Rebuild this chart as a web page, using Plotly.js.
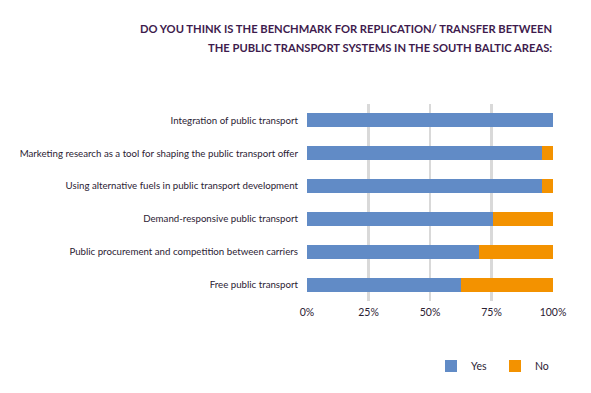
<!DOCTYPE html>
<html><head><meta charset="utf-8">
<script src="https://cdn.plot.ly/plotly-3.0.1.min.js"></script>
<style>html,body{margin:0;padding:0;background:#fff}#chart{width:591px;height:393px}</style>
</head><body><div id="chart"></div>
<script>
const categories = [
  "Integration of public transport",
  "Marketing research as a tool for shaping the public transport offer",
  "Using alternative fuels in public transport development",
  "Demand-responsive public transport",
  "Public procurement and competition between carriers",
  "Free public transport"
];
const yesValues = [100, 95.7, 95.7, 75.8, 69.8, 62.6];
const noValues = [0, 4.3, 4.3, 24.2, 30.2, 37.4];
const xTickVals = [0, 25, 50, 75, 100];
const xTickText = ["0%", "25%", "50%", "75%", "100%"];
const titleLines = [
  "DO YOU THINK IS THE BENCHMARK FOR REPLICATION/ TRANSFER BETWEEN",
  "THE PUBLIC TRANSPORT SYSTEMS IN THE SOUTH BALTIC AREAS:"
];

const font = "Lato, 'Noto Sans', sans-serif";
const data = [
  {type:'bar', orientation:'h', name:'Yes', y:categories, x:yesValues, marker:{color:'#618bc6'}},
  {type:'bar', orientation:'h', name:'No', y:categories, x:noValues, marker:{color:'#f39200'}}
];
const layout = {
  width:591, height:393,
  margin:{l:307, r:38, t:104, b:92, autoexpand:false},
  barmode:'stack', bargap:0.57,
  paper_bgcolor:'#fff', plot_bgcolor:'#fff',
  font:{family:font, size:10, color:'#2b2233'},
  xaxis:{range:[0,100], tickvals:xTickVals, ticktext:xTickText, showgrid:true, gridcolor:'#d9d9d9', gridwidth:2.5,
         zeroline:false, showline:false, ticks:'', ticklabelstandoff:3, automargin:false, tickfont:{size:10.5, color:'#2b2233'}},
  yaxis:{autorange:'reversed', ticks:'', showline:false, automargin:false, ticklabelstandoff:8, tickfont:{size:9.7, color:'#2b2233'}},
  showlegend:true,
  legend:{orientation:'h', xref:'container', x:431/591, xanchor:'left', y:-0.33, yanchor:'middle', traceorder:'normal',
          entrywidth:19, entrywidthmode:'pixels', font:{size:10.5, color:'#2b2233'}},
  annotations: titleLines.map((t, i) => ({xref:'paper', yref:'paper', x:1.005, xanchor:'right', y:1.0, yanchor:'middle',
    yshift: i === 0 ? 76 : 57, text:t, showarrow:false, align:'right',
    font:{family:font, size:11.2, color:'#3e1b4d', weight:'bold'}}))
};
Plotly.newPlot('chart', data, layout, {displayModeBar:false, staticPlot:true});
</script></body></html>
